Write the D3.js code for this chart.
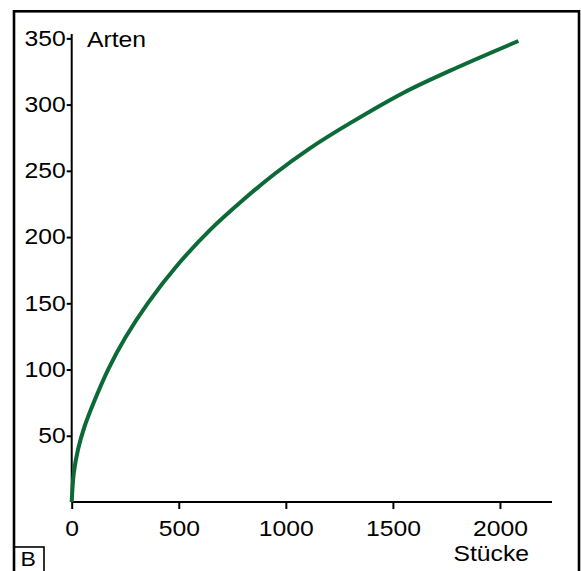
<!DOCTYPE html>
<html lang="de">
<head>
  <meta charset="utf-8">
  <title>Arten / Stücke</title>
  <script src="https://cdn.jsdelivr.net/npm/d3@7"></script>
  <style>
  body { margin: 0; background: #fff; }
  svg text { font-family: "Liberation Sans", Arial, sans-serif; font-size: 21.5px; fill: #000; }
  </style>
</head>
<body>
<div id="chart"></div>
<script>
// Stücke (individuals) vs Arten (species)
var stuecke = [0, 10, 30, 60, 100, 170, 250, 355, 500, 650, 800, 950, 1112, 1300, 1550, 1800, 2086];
var arten   = [0, 22, 40, 57, 74, 100, 124, 150, 180, 206, 228, 248, 267, 286, 309, 328, 348];
var xTicks = [0, 500, 1000, 1500, 2000];
var yTicks = [50, 100, 150, 200, 250, 300, 350];

var W = 581, H = 571;
var SX = 1.15; // the original lettering is a bit wider than Arial

var svg = d3.select("#chart")
  .append("svg")
    .attr("width", W)
    .attr("height", H);

// draws text stretched horizontally, x is the real anchor position
function label(g, x0, y0, txt, anchor, size) {
  return g.append("text")
    .attr("transform", "scale(" + SX + ",1)")
    .attr("x", x0 / SX).attr("y", y0)
    .attr("text-anchor", anchor || "start")
    .style("font-size", (size || 21.5) + "px")
    .text(txt);
}

// outer frame
svg.append("rect")
  .attr("x", 14).attr("y", 11.3)
  .attr("width", 565).attr("height", 620)
  .attr("fill", "none")
  .attr("stroke", "#000")
  .attr("stroke-width", 2.6);

// panel letter box
svg.append("rect")
  .attr("x", 14).attr("y", 547)
  .attr("width", 30).attr("height", 40)
  .attr("fill", "none")
  .attr("stroke", "#000")
  .attr("stroke-width", 1.6);
label(svg, 20.5, 566, "B", "start", 20);

var x = d3.scaleLinear()
  .domain([0, 2243])
  .range([71.7, 552]);

var y = d3.scaleLinear()
  .domain([0, 353.3])
  .range([502, 34]);

// x axis
var xAxis = svg.append("g")
  .attr("transform", "translate(0,502)")
  .call(d3.axisBottom(x).tickValues(xTicks).tickFormat(d3.format("d")).tickSize(7).tickPadding(12));

// y axis
var yAxis = svg.append("g")
  .attr("transform", "translate(71.7,0)")
  .call(d3.axisLeft(y).tickValues(yTicks).tickFormat(d3.format("d")).tickSize(5).tickPadding(1));

[xAxis, yAxis].forEach(function(ax) {
  ax.selectAll(".tick line").attr("stroke-width", 2);
  ax.selectAll(".tick text")
    .attr("font-family", null)
    .style("font-size", "21.5px")
    .attr("transform", "scale(" + SX + ",1)");
});
yAxis.selectAll(".tick text").attr("x", -6 / SX);
// plain axis lines without end caps
xAxis.select(".domain").attr("stroke-width", 2).attr("d", "M" + x.range()[0] + ",0H" + x.range()[1]);
yAxis.select(".domain").attr("stroke-width", 2).attr("d", "M0," + y.range()[0] + "V" + y.range()[1]);

label(svg, 87, 47, "Arten");
label(svg, 529, 561.5, "Stücke", "end");

var pts = stuecke.map(function(d, i) { return [d, arten[i]]; });

var line = d3.line()
  .x(function(d) { return x(d[0]); })
  .y(function(d) { return y(d[1]); })
  .curve(d3.curveCatmullRom.alpha(0.5));

svg.append("path")
  .datum(pts)
  .attr("d", line)
  .attr("fill", "none")
  .attr("stroke", "#0b6a36")
  .attr("stroke-width", 4);
</script>
</body>
</html>
